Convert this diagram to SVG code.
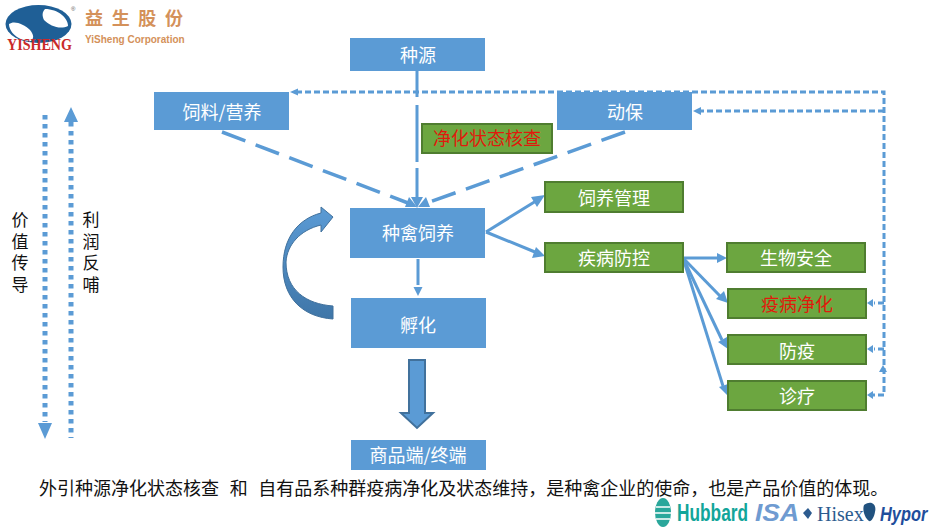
<svg xmlns="http://www.w3.org/2000/svg" width="950" height="530" viewBox="0 0 950 530">
<style>
text{font-family:"Noto Sans CJK SC","Liberation Sans",sans-serif}
.b{fill:#5b9bd5}
.g{fill:#6ca640;stroke:#4f7d30;stroke-width:2}
.t{fill:#fff;font-size:18px;text-anchor:middle}
.r{fill:#e01a0c;font-size:18px;text-anchor:middle}
.k{fill:#111;font-size:17px;writing-mode:vertical-rl;letter-spacing:4.700px}
.l{fill:none;stroke:#5b9bd5}
.d{stroke-width:3.500;stroke-dasharray:25 11}
.s{stroke-width:3;stroke-dasharray:6 3}
.p{stroke-width:3}
.o{stroke-width:5;stroke-dasharray:4.500 4.500}
.h{fill:#5b9bd5}
</style>
<rect width="950" height="530" fill="#fff"/>
<g id="logo">
<ellipse cx="38.500" cy="24" rx="33" ry="19" fill="#1f5f96"/>
<path d="M45 9C58 9 68 18 68 26C60 30 50 26 44 20C42 16 42 12 45 9Z" fill="#fff"/>
<path d="M9 24C14 20 24 24 30 30C34 35 34 38 31 41C18 41 9 32 9 24Z" fill="#fff"/>
<text transform="translate(7 50) scale(.88 1)" font-size="16" font-weight="700" fill="#c92a2a" style="font-family:'Liberation Serif',serif">YISHENG</text>
<text x="71" y="11" font-size="6" fill="#555" style="font-family:'Liberation Sans',sans-serif">®</text>
<text x="85" y="25" font-size="18" font-weight="700" fill="#d4915a" textLength="98">益生股份</text>
<text x="85" y="43" font-size="10" font-weight="700" fill="#d4915a" style="font-family:'Liberation Sans',sans-serif">YiSheng Corporation</text>
</g>
<g id="connectors">
<path class="l p" stroke-dasharray="26 8 57 6 34" d="M417 71V200"/>
<path class="h" d="M417 208L411 197H423Z"/>
<path class="l d" d="M222 132L408 203"/>
<path class="h" d="M417 207L405 207L409 197Z"/>
<path class="l d" d="M625 132L427 203"/>
<path class="h" d="M418 207L430 207L426 197Z"/>
<path class="l p" d="M418 259V285"/>
<path class="h" d="M418 296L413.500 287H422.500Z"/>
<path class="l p" d="M486 232L536 201"/>
<path class="h" d="M545 195L537 207L531 197Z"/>
<path class="l p" d="M486 232L535 252"/>
<path class="h" d="M545 256L532 258L536 247Z"/>
<path class="l p" d="M683 258H718"/>
<path class="h" d="M727 258L717 263V253Z"/>
<path class="l p" d="M683 258L720 296"/>
<path class="h" d="M728 303L716 299L724 291Z"/>
<path class="l p" d="M683 258L722 340"/>
<path class="h" d="M728 349L718 342L727 337Z"/>
<path class="l p" d="M683 258L723 386"/>
<path class="h" d="M728 396L719 387L728 384Z"/>
<path class="l s" d="M296 92H884V395H873"/>
<path class="h" d="M290 92L298 88.500V95.500Z"/>
<path class="l s" d="M884 111H700"/>
<path class="h" d="M693 111L701 107V115Z"/>
<path class="l s" d="M884 303H874"/>
<path class="h" d="M867 303L873 299V307Z"/>
<path class="l s" d="M884 349H874"/>
<path class="h" d="M867 349L873 345V353Z"/>
<path class="h" d="M867 395L873 391V399Z"/>
<path class="h" d="M883 365L879 372H887Z"/>
<path class="l o" d="M45 115V422"/>
<path class="h" d="M45 439L38 423H52Z"/>
<path class="l o" d="M71 122V438"/>
<path class="h" d="M71 107L64 122H78Z"/>
</g>
<g id="yuan"><rect class="b" x="350" y="38" width="135" height="33"/><text class="t" x="418" y="62">种源</text></g>
<g id="feed"><rect class="b" x="154" y="92" width="135" height="38"/><text class="t" x="222" y="119">饲料/营养</text></g>
<g id="health"><rect class="b" x="557" y="92" width="135" height="38"/><text class="t" x="625" y="119">动保</text></g>
<g id="check"><rect class="g" x="422" y="124" width="130" height="29"/><text class="r" x="487" y="145">净化状态核查</text></g>
<g id="breed"><rect class="b" x="350" y="208" width="135" height="50"/><text class="t" x="418" y="240">种禽饲养</text></g>
<g id="hatch"><rect class="b" x="351" y="298" width="135" height="50"/><text class="t" x="418" y="332">孵化</text></g>
<g id="end"><rect class="b" x="351" y="440" width="135" height="30"/><text class="t" x="418" y="462">商品端/终端</text></g>
<g id="manage"><rect class="g" x="545" y="182" width="138" height="30"/><text class="t" x="614" y="205">饲养管理</text></g>
<g id="control"><rect class="g" x="545" y="243" width="138" height="29"/><text class="t" x="614" y="265">疾病防控</text></g>
<g id="bio"><rect class="g" x="727" y="243" width="138" height="29"/><text class="t" x="796" y="265">生物安全</text></g>
<g id="purify"><rect class="g" x="728" y="289" width="138" height="29"/><text class="r" x="797" y="311">疫病净化</text></g>
<g id="prevent"><rect class="g" x="728" y="335" width="138" height="29"/><text class="t" x="797" y="358">防疫</text></g>
<g id="treat"><rect class="g" x="728" y="381" width="138" height="29"/><text class="t" x="797" y="403">诊疗</text></g>
<g id="loop">
<defs><linearGradient id="lg" x1="0" y1="0" x2="0" y2="1"><stop offset="0" stop-color="#5b9bd5"/><stop offset="1" stop-color="#3f76a8"/></linearGradient></defs>
<path d="M321 213V207L333 217L321 232V225C300 230 287 245 286 262C286 290 306 304 333 306V319C303 317 283 298 283 267C283 238 298 219 321 213Z" fill="url(#lg)" stroke="#41719c" stroke-width="1"/>
</g>
<g id="down"><path d="M409 360H425V413H433L417 428L401 413H409Z" fill="#5b9bd5" stroke="#41719c" stroke-width="2"/></g>
<g id="labels">
<text class="k" x="20" y="211">价值传导</text>
<text class="k" x="91" y="211">利润反哺</text>
<text x="39" y="495" font-size="18" fill="#111" word-spacing="1.300" xml:space="preserve">外引种源净化状态核查  和  自有品系种群疫病净化及状态维持，是种禽企业的使命，也是产品价值的体现。</text>
</g>
<g id="brands">
<ellipse cx="663" cy="512.500" rx="8" ry="14.500" fill="#2aa79b"/>
<path d="M656 507H670M655 513H671M656 519H670" stroke="#fff" stroke-width="1.500"/>
<text transform="translate(677 521) scale(.72 1)" font-size="24" font-weight="700" fill="#12a59a" style="font-family:'Liberation Sans',sans-serif">Hubbard</text>
<text transform="translate(755 521) scale(1.100 1)" font-size="24" font-weight="700" font-style="italic" fill="#6f9bd1" style="font-family:'Liberation Sans',sans-serif">ISA</text>
<path d="M803 513L808 508L812 513L808 519Z" fill="#2c5b8f"/>
<text x="817" y="521" font-size="20" fill="#2c5b8f" style="font-family:'Liberation Serif',serif">Hisex</text>
<path d="M864 505C871 500 877 504 875 512C874 518 871 522 869 521C865 518 862 510 864 505Z" fill="#21527f"/>
<text transform="translate(880 521) scale(.78 1)" font-size="21" font-weight="700" font-style="italic" fill="#1f4e9c" style="font-family:'Liberation Sans',sans-serif">Hypor</text>
</g>
</svg>
